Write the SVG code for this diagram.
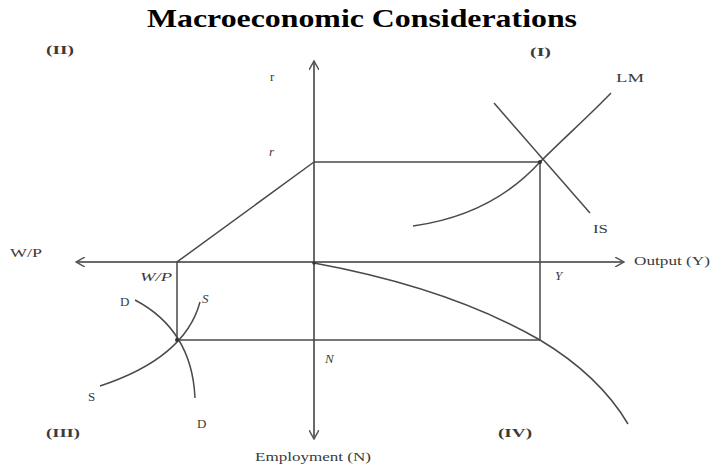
<svg xmlns="http://www.w3.org/2000/svg" width="723" height="468" viewBox="0 0 723 468">
<style>
.ax{stroke:#6a6a6a;stroke-width:2;fill:none}
.ln{stroke:#4a4a4a;stroke-width:1.5;fill:none}
.t{font-family:"Liberation Serif","Times New Roman",serif;font-size:13px;fill:#3a3a3a}
.i{font-style:italic}
.b{font-weight:bold}
.title{font-family:"Liberation Serif","Times New Roman",serif;font-size:25px;font-weight:bold;fill:#000}
</style>
<defs>
<marker id="arr" viewBox="0 0 10 10" refX="9" refY="5" markerWidth="10" markerHeight="10" markerUnits="userSpaceOnUse" orient="auto">
<path d="M0,0 L9,5 L0,10" fill="none" stroke="#555" stroke-width="1.5"/>
</marker>
</defs>
<rect width="723" height="468" fill="#fff"/>
<text class="title" x="362" y="27" text-anchor="middle" textLength="430" lengthAdjust="spacingAndGlyphs">Macroeconomic Considerations</text>
<g id="connectors">
<line class="ax" x1="314" y1="262" x2="76" y2="262" marker-end="url(#arr)"/>
<line class="ax" x1="314" y1="262" x2="624" y2="262" marker-end="url(#arr)"/>
<line class="ax" x1="314" y1="262" x2="314" y2="61" marker-end="url(#arr)"/>
<line class="ax" x1="314" y1="262" x2="314" y2="439" marker-end="url(#arr)"/>
<path class="ln" d="M314,162 L540,162 L540,340 L177,340 L177,262 L314,162"/>
<path class="ln" d="M314,263 Q450,288 540,340 C570,358 605,385 628,424"/>
<path id="LM" class="ln" d="M413,226 C470,218 510,195 540,162 C565,137 590,115 611,93"/>
<line id="IS" class="ln" x1="494" y1="103" x2="590" y2="213"/>
<path id="Dcurve" class="ln" d="M135,300 Q192,330 195,398"/>
<path id="Scurve" class="ln" d="M100,386 Q185,358 200,302"/>
<circle cx="540" cy="162" r="2" fill="#333"/>
<circle cx="177" cy="340" r="2" fill="#333"/>
<circle cx="314" cy="263" r="1.8" fill="#333"/>
</g>
<g id="quadrants">
<text class="t b" x="46" y="54" textLength="28" lengthAdjust="spacingAndGlyphs">(II)</text>
<text class="t b" x="530" y="56" textLength="21" lengthAdjust="spacingAndGlyphs">(I)</text>
<text class="t b" x="46" y="437" textLength="34" lengthAdjust="spacingAndGlyphs">(III)</text>
<text class="t b" x="498" y="437" textLength="34" lengthAdjust="spacingAndGlyphs">(IV)</text>
</g>
<g id="labels">
<text class="t" x="270" y="81">r</text>
<text class="t i" x="269" y="156">r</text>
<text class="t" x="616" y="82" textLength="28" lengthAdjust="spacingAndGlyphs">LM</text>
<text class="t" x="593" y="233" textLength="15" lengthAdjust="spacingAndGlyphs">IS</text>
<text class="t" x="10" y="257" textLength="32" lengthAdjust="spacingAndGlyphs">W/P</text>
<text class="t i" x="140" y="281" textLength="32" lengthAdjust="spacingAndGlyphs">W/P</text>
<text class="t" x="634" y="265" textLength="76" lengthAdjust="spacingAndGlyphs">Output (Y)</text>
<text class="t i" x="555" y="280">Y</text>
<text class="t" x="120" y="306">D</text>
<text class="t i" x="202" y="303">S</text>
<text class="t" x="88" y="401">S</text>
<text class="t" x="197" y="428">D</text>
<text class="t i" x="325" y="363">N</text>
<text class="t" x="313" y="461" text-anchor="middle" textLength="116" lengthAdjust="spacingAndGlyphs">Employment (N)</text>
</g>
</svg>
